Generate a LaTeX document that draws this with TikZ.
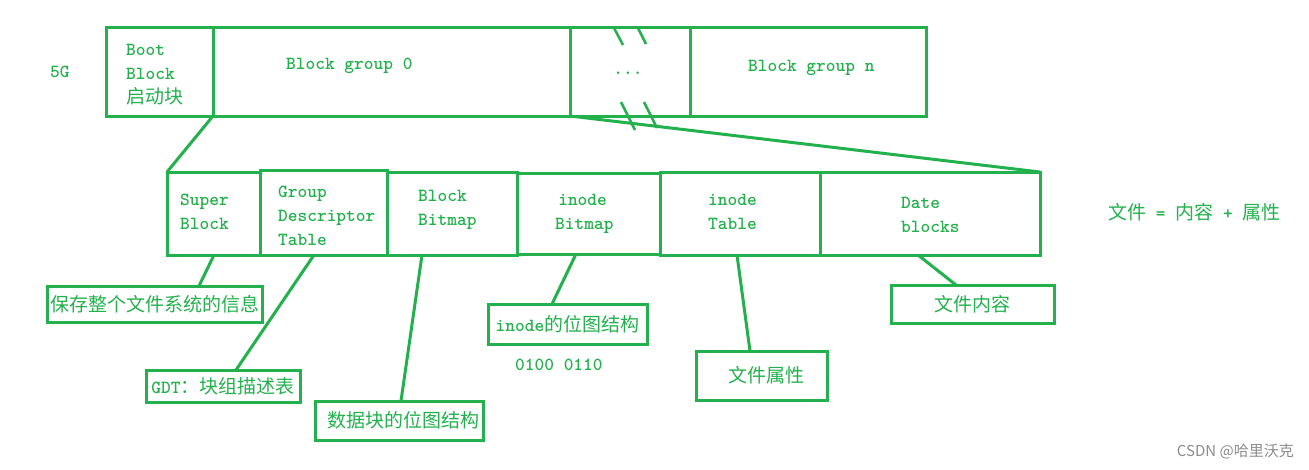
\documentclass[tikz,border=0pt]{standalone}
\usepackage{fontspec}
\newfontfamily\cjk{Noto Sans CJK SC}
\usetikzlibrary{calc}
\definecolor{pg}{HTML}{22B14C}
\definecolor{wm}{HTML}{8C8C8C}
\newcommand{\zh}[1]{{\cjk\mdseries\fontsize{19}{24}\selectfont #1}}
\begin{document}
\begin{tikzpicture}[x=1pt,y=-1pt,
  frame/.style={draw=pg,line width=3pt,inner sep=0pt,outer sep=0pt,rectangle,
     text=pg,font=\ttfamily\bfseries\fontsize{18.5}{24}\selectfont},
  txt/.style={text=pg,font=\ttfamily\bfseries\fontsize{18.5}{24}\selectfont,inner sep=0pt,anchor=west,align=left},
  conn/.style={draw=pg,line width=3pt},
  slash/.style={draw=pg,line width=2.5pt}]
\fill[white] (0,0) rectangle (1309,469);
\useasboundingbox (0,0) rectangle (1309,469);

% top row
\node[frame,minimum width=107pt,minimum height=89pt] (boot) at (159.5,71.5) {};
\node[frame,minimum width=357pt,minimum height=89pt] (group0) at (391.5,71.5) {};
\node[frame,minimum width=120pt,minimum height=89pt] (dots) at (630,71.5) {};
\node[frame,minimum width=236pt,minimum height=89pt] (groupn) at (808,71.5) {};

\node[txt] (fiveg) at (50,72) {5G};
\node[txt] (boottxt) at (126,75) {Boot\\Block\\\zh{启动块}};
\node[txt] (g0txt) at (286,66) {Block group 0};
\node[txt,anchor=center] (dotstxt) at (628,73) {...};
\node[txt] (gntxt) at (748,68) {Block group n};

% slash marks
\draw[slash] (614,28) -- (623,45);
\draw[slash] (638,28) -- (646,44);
\draw[slash] (621,102) -- (635,130);
\draw[slash] (644,102) -- (657,128);

% second row
\node[frame,minimum width=93pt,minimum height=83pt] (super) at (213.5,213.5) {};
\node[frame,minimum width=127pt,minimum height=85pt] (gdt) at (323.5,212.5) {};
\node[frame,minimum width=130pt,minimum height=83pt] (bbm) at (452,213.5) {};
\node[frame,minimum width=143pt,minimum height=81pt] (ibm) at (588.5,213.5) {};
\node[frame,minimum width=160pt,minimum height=83pt] (itab) at (740,213.5) {};
\node[frame,minimum width=220pt,minimum height=83pt] (data) at (930,213.5) {};

\node[txt] (supertxt) at (180,212) {Super\\Block};
\node[txt] (gdttxt) at (278,216) {Group\\Descriptor\\Table};
\node[txt] (bbmtxt) at (418,210) {Block\\Bitmap};
\node[txt] (ibmtxt) at (555,214) {\,inode\\Bitmap};
\node[txt] (itabtxt) at (708,212) {inode\\Table};
\node[txt] (datatxt) at (901,215) {Date\\blocks};
\node[txt] (formula) at (1108,212) {\zh{文件}\ = \zh{内容} + \zh{属性}};

% expansion lines
\draw[conn] (boot.south east) -- (super.north west);
\draw[conn] (dots.south west) -- (data.north east);

% label boxes
\node[frame,minimum width=215pt,minimum height=36pt] (info) at (154.5,304) {\zh{保存整个文件系统的信息}};
\node[frame,minimum width=154pt,minimum height=32pt] (gdtl) at (223,386) {GDT\zh{：块组描述表}};
\node[frame,minimum width=168pt,minimum height=39pt] (bbml) at (399,420.5) {\ \zh{数据块的位图结构}};
\node[frame,minimum width=159pt,minimum height=40pt] (ibml) at (567.5,324) {inode\zh{的位图结构}};
\node[frame,minimum width=131pt,minimum height=49pt] (attr) at (761.5,375.5) {\ \zh{文件属性}};
\node[frame,minimum width=163pt,minimum height=38pt] (content) at (972.5,304) {\zh{文件内容}};
\node[txt] (bits) at (515,365) {0100 0110};

% connectors to labels
\draw[conn] ([xshift=47pt]super.south west) -- ([xshift=152pt]info.north west);
\draw[conn] ([xshift=54pt]gdt.south west) -- ([xshift=90pt]gdtl.north west);
\draw[conn] ([xshift=35pt]bbm.south west) -- ([xshift=86pt]bbml.north west);
\draw[conn] ([xshift=59pt]ibm.south west) -- ([xshift=64pt]ibml.north west);
\draw[conn] ([xshift=77pt]itab.south west) -- ([xshift=54pt]attr.north west);
\draw[conn] ([xshift=98pt]data.south west) -- ([xshift=65pt]content.north west);

% watermark
\node[text=wm,font=\cjk\fontsize{15}{18}\selectfont,inner sep=0pt,anchor=east] (wmark) at (1294,451) {CSDN @哈里沃克};
\end{tikzpicture}
\end{document}
